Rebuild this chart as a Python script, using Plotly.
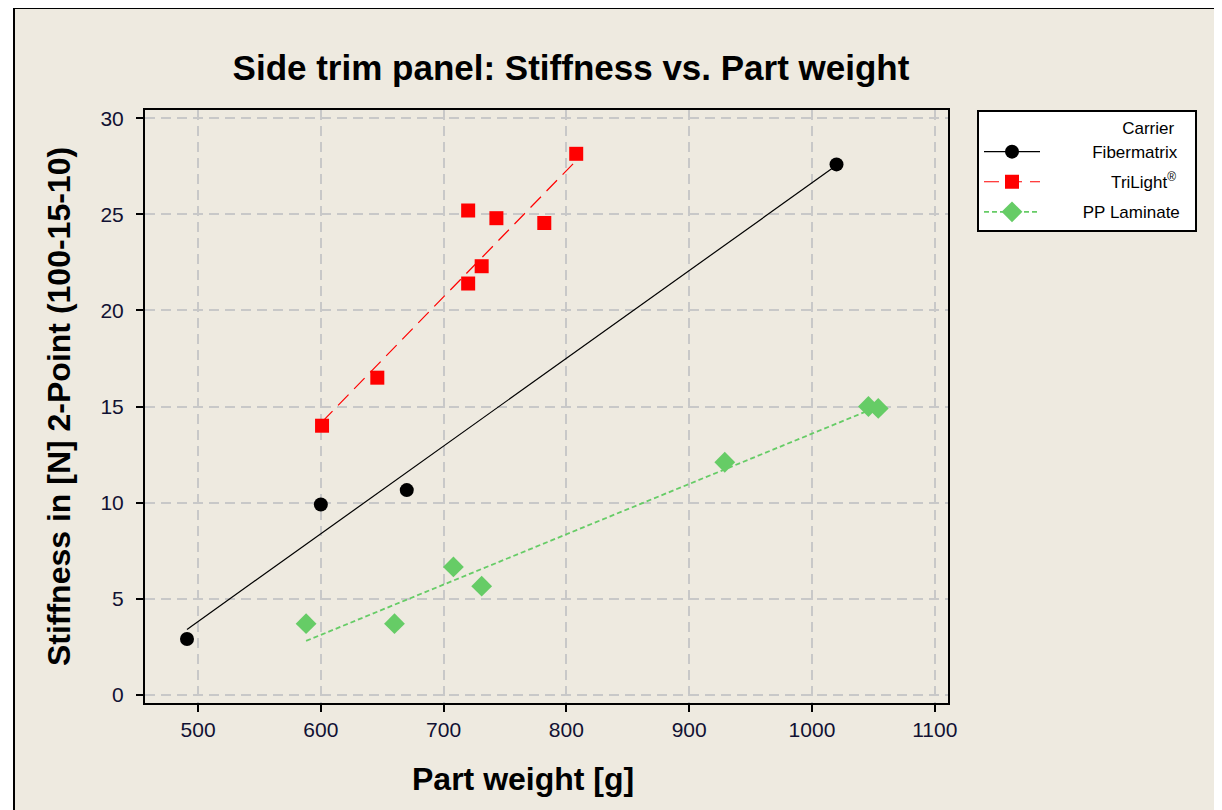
import plotly.graph_objects as go

# ---- data ----
fib_x = [491, 600, 670, 1020]
fib_y = [2.9, 9.9, 10.65, 27.6]

tri_x = [601, 646, 720, 743, 782, 731, 720, 808]
tri_y = [14.0, 16.5, 25.2, 24.8, 24.55, 22.3, 21.4, 28.15]

ppl_x = [588, 660, 708, 731, 929, 1046, 1054]
ppl_y = [3.7, 3.7, 6.65, 5.65, 12.1, 15.0, 14.9]

# trend line endpoints
fib_fit_x = [491, 1020]
fib_fit_y = [3.4, 27.55]
tri_fit_x = [601, 808]
tri_fit_y = [14.2, 27.8]
ppl_fit_x = [588, 1054]
ppl_fit_y = [2.8, 15.0]

names = ["Fibermatrix", "TriLight<sup>®</sup>", "PP Laminate"]
x_ticks = [500, 600, 700, 800, 900, 1000, 1100]
y_ticks = [0, 5, 10, 15, 20, 25, 30]

BLACK = "#000000"
RED = "#FF0000"
GREEN = "#66CC66"
FONT = "Liberation Sans, Arial, sans-serif"
NB = "\u00a0"
pads = [10, 14, 8]  # leading spaces to right-align legend text

series = [
    (fib_x, fib_y, fib_fit_x, fib_fit_y, BLACK, "circle", 14, "solid", 1.2),
    (tri_x, tri_y, tri_fit_x, tri_fit_y, RED, "square", 14, "15px,8px", 1.2),
    (ppl_x, ppl_y, ppl_fit_x, ppl_fit_y, GREEN, "diamond", 16, "5px,3px", 1.8),
]

fig = go.Figure()
for i, (sx, sy, fx, fy, col, sym, size, dash, lw) in enumerate(series):
    fig.add_trace(go.Scatter(x=fx, y=fy, mode="lines", showlegend=False,
                             line=dict(color=col, width=lw, dash=dash),
                             hoverinfo="skip"))
    fig.add_trace(go.Scatter(x=sx, y=sy, mode="markers", showlegend=False,
                             marker=dict(color=col, symbol=sym, size=size,
                                         line=dict(width=0)),
                             name=names[i]))
    fig.add_trace(go.Scatter(x=[None], y=[None], mode="lines+markers",
                             name=NB * pads[i] + names[i] + NB * 2,
                             legendgroup=f"g{i}",
                             line=dict(color=col, width=lw, dash=dash),
                             marker=dict(color=col, symbol=sym, size=size,
                                         line=dict(width=0))))

W, H = 1222, 810
OFF = 8  # page offset of the figure inside the window
L, T = 137, 102
pw, ph = 803, 593
R, B = W - L - pw, H - T - ph

def px(xp):
    return (xp - OFF - L) / pw

def py(yp):
    return (T + ph - (yp - OFF)) / ph

axis_common = dict(
    showline=True, linecolor="#000000", linewidth=2, mirror=True,
    showgrid=True, gridcolor="#C8C8C8", gridwidth=1.5, griddash="10px,6px",
    ticks="outside", ticklen=7, tickwidth=2, tickcolor="#000000",
    zeroline=False,
    tickfont=dict(family=FONT, size=21, color="#111133"),
)

fig.update_layout(
    width=W, height=H,
    margin=dict(l=L, r=R, t=T, b=B),
    paper_bgcolor="#FFFFFF",
    plot_bgcolor="#FFFFFF",
    title=dict(text="<b>Side trim panel: Stiffness vs. Part weight</b>",
               font=dict(family=FONT, size=35, color="#000000"),
               x=(571 - OFF) / W, xanchor="center",
               y=1 - (68 - OFF) / H, yanchor="middle"),
    xaxis=dict(range=[456.8, 1110.8], tickvals=x_ticks, **axis_common),
    yaxis=dict(range=[-0.43, 30.43], tickvals=y_ticks,
               ticklabelstandoff=8,
               title=dict(text="<b>Stiffness in [N] 2-Point (100-15-10)</b>",
                          font=dict(family=FONT, size=32, color="#000000"),
                          standoff=20),
               **axis_common),
    annotations=[dict(text="<b>Part weight [g]</b>", xref="paper", yref="paper",
                      x=px(523), y=py(779), xanchor="center", yanchor="middle",
                      showarrow=False,
                      font=dict(family=FONT, size=32, color="#000000"))],
    legend=dict(x=px(977), y=py(110), xanchor="left", yanchor="top",
                bgcolor="#FFFFFF", bordercolor="#000000", borderwidth=2,
                font=dict(family=FONT, size=17, color="#000000"),
                title=dict(text="Carrier" + NB * 4, side="top right",
                           font=dict(family=FONT, size=17, color="#000000")),
                tracegroupgap=5, itemwidth=56),
    shapes=[dict(type="rect", xref="paper", yref="paper", layer="below",
                 x0=px(14), x1=px(1240), y0=py(830), y1=py(8),
                 fillcolor="#EEEAE0", line=dict(color="#000000", width=2))],
    showlegend=True,
)

fig.write_html("out.html")
